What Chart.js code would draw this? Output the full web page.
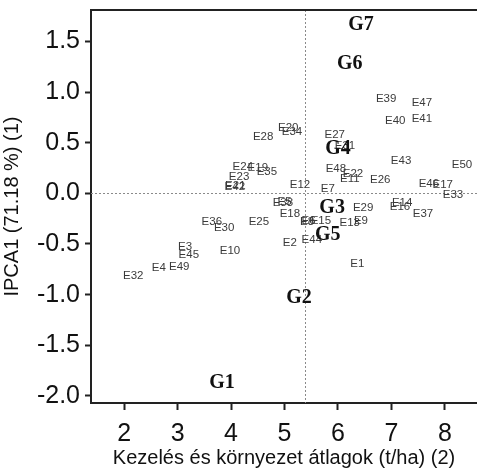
<!DOCTYPE html>
<html>
<head>
<meta charset="utf-8">
<script src="https://cdn.jsdelivr.net/npm/chart.js@4/dist/chart.umd.min.js"></script>
<style>
html,body{margin:0;padding:0;background:#fff;}
#wrap{width:477px;height:470px;}
</style>
</head>
<body>
<div id="wrap"><canvas id="c" width="477" height="470"></canvas></div>
<script>
// Environment (E) labels: name, mean yield (x), IPCA1 score (y)
const E_NAMES = ['E1','E2','E3','E4','E5','E6','E7','E8','E9','E10','E11','E12','E13','E14','E15','E16','E17','E18','E19','E20','E21','E22','E23','E24','E25','E26','E27','E28','E29','E30','E31','E32','E33','E34','E35','E36','E37','E38','E39','E40','E41','E42','E43','E44','E45','E46','E47','E48','E49','E50'];
const E_X = [6.36,5.10,3.14,2.65,5.00,5.45,5.81,5.42,6.43,3.98,6.22,5.29,6.22,7.20,5.68,7.16,7.96,5.10,4.50,5.07,4.08,6.28,4.15,4.22,4.52,6.79,5.94,4.60,6.47,3.87,6.13,2.17,8.15,5.14,4.67,3.64,7.59,4.97,6.90,7.07,7.57,4.07,7.18,5.51,3.21,7.70,7.57,5.96,3.03,8.32];
const E_Y = [-0.70,-0.49,-0.53,-0.74,-0.08,-0.27,0.04,-0.28,-0.27,-0.57,0.14,0.08,-0.29,-0.09,-0.27,-0.13,0.08,-0.20,0.25,0.65,0.07,0.19,0.16,0.26,-0.28,0.13,0.58,0.56,-0.14,-0.34,0.47,-0.81,-0.01,0.61,0.21,-0.28,-0.20,-0.09,0.93,0.72,0.74,0.06,0.32,-0.46,-0.61,0.09,0.89,0.24,-0.73,0.28];
// Treatment (G) labels
const G_NAMES = ['G1','G2','G3','G4','G5','G6','G7'];
const G_X = [3.83,5.27,5.89,6.00,5.81,6.22,6.43];
const G_Y = [-1.87,-1.03,-0.14,0.44,-0.41,1.28,1.66];
// Ticks and reference lines
const X_TICKS = [2,3,4,5,6,7,8];
const Y_TICKS = [-2.0,-1.5,-1.0,-0.5,0.0,0.5,1.0,1.5];
const REF_X = [5.38];
const REF_Y = [0];

const toPts = (xs, ys) => xs.map((x, i) => ({x: x, y: ys[i]}));

const labelPlugin = {
  id: 'labels',
  beforeDatasetsDraw(chart) {
    const {ctx, chartArea: a, scales: {x, y}} = chart;
    ctx.save();
    ctx.strokeStyle = '#8a8a8a';
    ctx.lineWidth = 1;
    ctx.setLineDash([2, 2]);
    REF_X.forEach(v => {
      const px = Math.round(x.getPixelForValue(v)) + 0.5;
      ctx.beginPath(); ctx.moveTo(px, a.top); ctx.lineTo(px, a.bottom); ctx.stroke();
    });
    REF_Y.forEach(v => {
      const py = Math.round(y.getPixelForValue(v)) + 0.5;
      ctx.beginPath(); ctx.moveTo(a.left, py); ctx.lineTo(a.right, py); ctx.stroke();
    });
    ctx.restore();
  },
  afterDatasetsDraw(chart) {
    const {ctx, chartArea: a} = chart;
    ctx.save();
    ctx.textAlign = 'center';
    ctx.textBaseline = 'middle';
    chart.data.datasets.forEach((ds, di) => {
      const meta = chart.getDatasetMeta(di);
      ctx.font = ds.labelFont;
      ctx.fillStyle = ds.labelColor;
      meta.data.forEach((el, i) => {
        ctx.fillText(ds.names[i], el.x, el.y);
      });
    });
    // top frame line
    ctx.strokeStyle = '#222';
    ctx.lineWidth = 2;
    ctx.setLineDash([]);
    ctx.beginPath(); ctx.moveTo(a.left - 1, a.top); ctx.lineTo(a.right, a.top); ctx.stroke();
    ctx.restore();
  }
};

new Chart(document.getElementById('c'), {
  type: 'scatter',
  data: {
    datasets: [
      {label: 'E', names: E_NAMES, data: toPts(E_X, E_Y), pointRadius: 0, pointHoverRadius: 0,
       labelFont: '11.5px "Liberation Sans", Arial, sans-serif', labelColor: '#3a3a3a'},
      {label: 'G', names: G_NAMES, data: toPts(G_X, G_Y), pointRadius: 0, pointHoverRadius: 0,
       labelFont: 'bold 20px "Liberation Serif", "Times New Roman", serif', labelColor: '#111'}
    ]
  },
  options: {
    responsive: false,
    animation: false,
    events: [],
    layout: {padding: {top: 10, right: 0, bottom: 0, left: 0}},
    plugins: {legend: {display: false}, tooltip: {enabled: false}},
    scales: {
      x: {
        type: 'linear', min: 1.38, max: 8.6,
        afterBuildTicks: s => { s.ticks = X_TICKS.map(v => ({value: v})); },
        afterFit: s => { s.height = 67; s.paddingLeft = 0; s.paddingRight = 0; },
        grid: {drawOnChartArea: false, drawTicks: true, tickLength: 7, tickWidth: 2, tickColor: '#222'},
        border: {display: true, width: 2, color: '#222'},
        ticks: {color: '#111', font: {family: '"Liberation Sans", Arial, sans-serif', size: 25}, padding: 9,
                maxRotation: 0, callback: v => String(v)},
        title: {display: true, text: 'Kezelés és környezet átlagok (t/ha) (2)', color: '#111',
                font: {family: '"Liberation Sans", Arial, sans-serif', size: 20}, padding: {top: 0, bottom: 0}}
      },
      y: {
        type: 'linear', min: -2.07, max: 1.81,
        afterBuildTicks: s => { s.ticks = Y_TICKS.map(v => ({value: v})); },
        afterFit: s => { s.width = 91; s.paddingTop = 0; s.paddingBottom = 0; },
        grid: {drawOnChartArea: false, drawTicks: true, tickLength: 6, tickWidth: 2, tickColor: '#222'},
        border: {display: true, width: 2, color: '#222'},
        ticks: {color: '#111', font: {family: '"Liberation Sans", Arial, sans-serif', size: 25}, padding: 5,
                callback: v => Number(v).toFixed(1)},
        title: {display: true, text: 'IPCA1 (71.18 %) (1)', color: '#111',
                font: {family: '"Liberation Sans", Arial, sans-serif', size: 20}, padding: {top: 0, bottom: 0}}
      }
    }
  },
  plugins: [labelPlugin]
});
</script>
</body>
</html>
